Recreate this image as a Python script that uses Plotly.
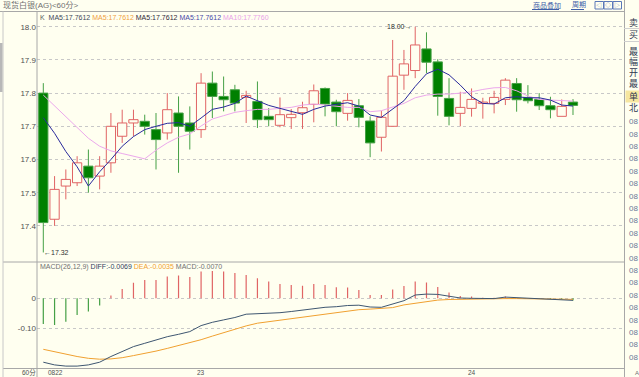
import plotly.graph_objects as go

W, H = 639, 377
BG = "#FFFFF0"

title_text = "现货白银(AG)<60分>"
price_ticks = [17.4, 17.5, 17.6, 17.7, 17.8, 17.9, 18.0]
price_tick_labels = ["17.4", "17.5", "17.6", "17.7", "17.8", "17.9", "18.0"]
macd_ticks = [0, -0.10]
macd_tick_labels = ["0", "-0.10"]
date_labels = ["0822", "23", "24"]
date_label_idx = [0, 14, 38]

opens = [17.80, 17.42, 17.52, 17.53, 17.58, 17.55, 17.59, 17.67, 17.71, 17.715,
         17.69, 17.68, 17.74, 17.71, 17.69, 17.83, 17.79, 17.81, 17.787, 17.775,
         17.73, 17.703, 17.726, 17.741, 17.766, 17.814, 17.773, 17.739, 17.762, 17.716,
         17.667, 17.70, 17.854, 17.868, 17.933, 17.894, 17.784, 17.739, 17.754, 17.769,
         17.769, 17.781, 17.829, 17.787, 17.781, 17.762, 17.73, 17.773]
highs = [17.83, 17.55, 17.57, 17.61, 17.63, 17.61, 17.74, 17.75, 17.75, 17.735,
         17.74, 17.80, 17.79, 17.76, 17.86, 17.865, 17.85, 17.825, 17.807, 17.835,
         17.755, 17.787, 17.752, 17.774, 17.826, 17.817, 17.78, 17.80, 17.782, 17.73,
         17.747, 17.96, 17.93, 18.00, 17.983, 17.902, 17.845, 17.804, 17.814, 17.786,
         17.807, 17.845, 17.845, 17.824, 17.80, 17.789, 17.781, 17.782]
lows = [17.32, 17.40, 17.48, 17.52, 17.50, 17.51, 17.56, 17.65, 17.67, 17.675,
        17.57, 17.66, 17.56, 17.63, 17.665, 17.725, 17.745, 17.745, 17.71, 17.695,
        17.70, 17.697, 17.692, 17.692, 17.712, 17.73, 17.70, 17.717, 17.697, 17.607,
        17.624, 17.70, 17.81, 17.845, 17.86, 17.732, 17.703, 17.70, 17.729, 17.723,
        17.739, 17.764, 17.744, 17.769, 17.749, 17.724, 17.73, 17.734]
closes = [17.41, 17.51, 17.54, 17.59, 17.545, 17.58, 17.70, 17.71, 17.72, 17.70,
          17.66, 17.75, 17.70, 17.685, 17.83, 17.79, 17.78, 17.77, 17.793, 17.72,
          17.72, 17.735, 17.736, 17.756, 17.807, 17.767, 17.744, 17.778, 17.727, 17.65,
          17.727, 17.851, 17.888, 17.945, 17.893, 17.79, 17.73, 17.757, 17.781, 17.773,
          17.787, 17.839, 17.78, 17.777, 17.762, 17.75, 17.76, 17.763]

ma5 = [17.726, 17.679, 17.624, 17.578, 17.520, 17.563, 17.600, 17.640, 17.669, 17.690,
       17.700, 17.709, 17.711, 17.700, 17.725, 17.751, 17.758, 17.769, 17.791, 17.777,
       17.763, 17.754, 17.744, 17.736, 17.751, 17.761, 17.766, 17.771, 17.761, 17.734,
       17.727, 17.751, 17.777, 17.820, 17.858, 17.872, 17.855, 17.824, 17.789, 17.769,
       17.767, 17.786, 17.789, 17.786, 17.786, 17.779, 17.764, 17.761]
ma10 = [17.794, 17.761, 17.729, 17.694, 17.664, 17.640, 17.626, 17.618, 17.611, 17.602,
        17.628, 17.650, 17.667, 17.677, 17.701, 17.722, 17.732, 17.742, 17.747, 17.751,
        17.751, 17.754, 17.757, 17.764, 17.767, 17.764, 17.761, 17.757, 17.757, 17.744,
        17.747, 17.759, 17.769, 17.786, 17.794, 17.797, 17.797, 17.800, 17.804, 17.811,
        17.816, 17.817, 17.807, 17.791, 17.781, 17.779, 17.777, 17.776]

macd = [-0.086, -0.089, -0.078, -0.056, -0.044, -0.024, 0.009, 0.031, 0.052, 0.061,
        0.061, 0.073, 0.076, 0.071, 0.089, 0.091, 0.089, 0.084, 0.078, 0.067,
        0.056, 0.048, 0.044, 0.042, 0.048, 0.044, 0.037, 0.036, 0.028, 0.011,
        0.011, 0.029, 0.041, 0.056, 0.053, 0.038, 0.019, 0.008, 0.006, 0.002,
        0.002, 0.006, 0.001, 0.0, -0.001, -0.002, -0.003, -0.007]
diff = [-0.213, -0.222, -0.226, -0.226, -0.222, -0.213, -0.194, -0.178, -0.161, -0.150,
        -0.139, -0.128, -0.120, -0.111, -0.091, -0.080, -0.072, -0.064, -0.053, -0.052,
        -0.050, -0.048, -0.044, -0.039, -0.033, -0.030, -0.028, -0.024, -0.023, -0.029,
        -0.030, -0.020, -0.008, 0.011, 0.014, 0.013, 0.006, 0.001, 0.0, -0.001,
        -0.001, 0.004, 0.002, 0.0, -0.001, -0.004, -0.006, -0.0069]
dea = [-0.170, -0.178, -0.187, -0.194, -0.200, -0.203, -0.202, -0.198, -0.191, -0.184,
       -0.176, -0.167, -0.158, -0.148, -0.138, -0.126, -0.114, -0.102, -0.092, -0.083,
       -0.078, -0.072, -0.067, -0.061, -0.056, -0.053, -0.048, -0.042, -0.038, -0.036,
       -0.033, -0.031, -0.022, -0.017, -0.011, -0.006, -0.004, -0.003, -0.002, -0.002,
       -0.002, -0.001, -0.001, -0.001, -0.002, -0.002, -0.003, -0.0035]

right_labels = ["卖", "买", "最", "幅", "开", "最", "单", "北"]
right_time = "08"

RED = "#E06464"
GREEN_FILL = "#008000"
GREEN_LINE = "#45A045"
FONT = "Liberation Sans, Noto Sans CJK SC, sans-serif"


def xp(px):
    return px / W


def yp(py):
    return 1 - py / H


n = len(opens)
idx = list(range(n))

fig = go.Figure()

# wicks (split so they don't cross hollow bodies)
wick = {True: ([], []), False: ([], [])}
for i, (o, h, l, c) in enumerate(zip(opens, highs, lows, closes)):
    up = c >= o
    top, bot = max(o, c), min(o, c)
    xs, ys = wick[up]
    xs += [i, i, None, i, i, None]
    ys += [h, top, None, bot, l, None]
for up, col in [(True, RED), (False, GREEN_LINE)]:
    fig.add_trace(go.Scatter(x=wick[up][0], y=wick[up][1], mode="lines",
                             line=dict(color=col, width=1), hoverinfo="skip",
                             xaxis="x", yaxis="y", showlegend=False))

# bodies
base = [min(o, c) for o, c in zip(opens, closes)]
height = [max(abs(c - o), 0.003) for o, c in zip(opens, closes)]
fill = [BG if c >= o else GREEN_FILL for o, c in zip(opens, closes)]
edge = [RED if c >= o else GREEN_LINE for o, c in zip(opens, closes)]
fig.add_trace(go.Bar(x=idx, y=height, base=base, width=0.82,
                     marker=dict(color=fill, line=dict(color=edge, width=1)),
                     xaxis="x", yaxis="y", showlegend=False, hoverinfo="skip"))

fig.add_trace(go.Scatter(x=idx, y=ma10, mode="lines", line=dict(color="#ECA8EC", width=1),
                         xaxis="x", yaxis="y", showlegend=False))
fig.add_trace(go.Scatter(x=idx, y=ma5, mode="lines", line=dict(color="#2A2A9C", width=1),
                         xaxis="x", yaxis="y", showlegend=False))

# MACD sticks
stick = {True: ([], []), False: ([], [])}
for i, v in enumerate(macd):
    xs, ys = stick[v >= 0]
    xs += [i, i, None]
    ys += [0, v, None]
for pos, col in [(True, RED), (False, GREEN_LINE)]:
    fig.add_trace(go.Scatter(x=stick[pos][0], y=stick[pos][1], mode="lines",
                             line=dict(color=col, width=1.2), hoverinfo="skip",
                             xaxis="x2", yaxis="y2", showlegend=False))
fig.add_trace(go.Scatter(x=idx, y=dea, mode="lines", line=dict(color="#F0A030", width=1),
                         xaxis="x2", yaxis="y2", showlegend=False))
fig.add_trace(go.Scatter(x=idx, y=diff, mode="lines", line=dict(color="#3E5670", width=1),
                         xaxis="x2", yaxis="y2", showlegend=False))

x0_px, x1_px = 37, 622
spacing = 11.27
first_px = 43.3
xr = [-(first_px - x0_px) / spacing, (n - 1) + (x1_px - (first_px + (n - 1) * spacing)) / spacing]

p_top, p_bot = 12, 262
m_top, m_bot = 262, 368.3
price_range = [18.0 - (p_bot - 26.7) / 332, 18.0 + (26.7 - p_top) / 332]
macd_range = [-(m_bot - 298.3) / 300, (298.3 - m_top) / 300]

axis_common = dict(showgrid=False, zeroline=False, showticklabels=False, ticks="",
                   range=xr, domain=[xp(x0_px), xp(x1_px)], fixedrange=True)
yfont = dict(family=FONT, size=8, color="#505050")

fig.update_layout(
    width=W, height=H, autosize=False,
    margin=dict(l=0, r=0, t=0, b=0),
    paper_bgcolor=BG, plot_bgcolor=BG,
    showlegend=False, barmode="overlay",
    font=dict(family=FONT, size=8, color="#505050"),
    xaxis=dict(anchor="y", **axis_common),
    xaxis2=dict(anchor="y2", **axis_common),
    yaxis=dict(domain=[yp(p_bot), yp(p_top)], range=price_range, tickvals=price_ticks,
               ticktext=price_tick_labels, showgrid=True, gridcolor="#C8C8C8",
               griddash="dot", gridwidth=1, zeroline=False, tickfont=yfont,
               ticks="", showline=False, fixedrange=True),
    yaxis2=dict(domain=[yp(m_bot), yp(m_top)], range=macd_range, tickvals=macd_ticks,
                ticktext=macd_tick_labels, showgrid=True, gridcolor="#C8C8C8",
                griddash="dot", gridwidth=1, zeroline=False, tickfont=yfont,
                ticks="", showline=False, fixedrange=True),
)

shapes = []


def line(x0, y0, x1, y1, color="#A8A8A8", width=1):
    shapes.append(dict(type="line", xref="paper", yref="paper", x0=xp(x0), y0=yp(y0),
                       x1=xp(x1), y1=yp(y1), line=dict(color=color, width=width)))


line(0, 11.5, 624, 11.5)
line(3, 262, 624, 262)
line(3, 368.5, 624, 368.5)
line(37, 11.5, 37, 377)
line(3, 11.5, 3, 377, color="#C8C8C8")
line(624.5, 0, 624.5, 377)
line(624, 28.5, 639, 28.5, color="#D0D0D0")
line(624, 41.5, 639, 41.5, color="#D0D0D0")
shapes.append(dict(type="rect", xref="paper", yref="paper", x0=xp(0), x1=xp(2.5),
                   y0=yp(92), y1=yp(43), line=dict(width=0), fillcolor="#B8B8B8"))
# highlighted cell in right panel
shapes.append(dict(type="rect", xref="paper", yref="paper", x0=xp(625.5), x1=xp(639),
                   y0=yp(102.5), y1=yp(90.5), line=dict(width=0), fillcolor="#F6E6A0"))
# top-right buttons
for bx in [595, 604, 613]:
    shapes.append(dict(type="rect", xref="paper", yref="paper", x0=xp(bx), x1=xp(bx + 8.5),
                       y0=yp(9), y1=yp(1.5), line=dict(color="#5A78B8", width=1),
                       fillcolor=BG))
line(532, 9.5, 559, 9.5, color="#4060A8")
line(571, 9.5, 584, 9.5, color="#4060A8")
fig.update_layout(shapes=shapes)

ann = []


def text(x, y, s, size=7, color="#505050", xanchor="left", yanchor="middle", **kw):
    ann.append(dict(x=xp(x), y=yp(y), xref="paper", yref="paper", text=s, showarrow=False,
                    xanchor=xanchor, yanchor=yanchor,
                    font=dict(family=FONT, size=size, color=color), **kw))


text(1, 5.5, title_text, size=8, color="#707070")
text(531, 5.5, "商品叠加", size=7, color="#4060A8")
text(570, 5.5, "周期", size=7, color="#4060A8")
for bx, g in zip([595, 604, 613], ["◁", "◇", "▷"]):
    text(bx + 4.25, 5.3, g, size=6, color="#5A78B8", xanchor="center")

legend = ("K&nbsp;&nbsp;<span style='color:#404858'>MA5:17.7612</span> "
          "<span style='color:#F0A040'>MA5:17.7612</span> "
          "<span style='color:#302838'>MA5:17.7612</span> "
          "<span style='color:#4848A8'>MA5:17.7612</span> "
          "<span style='color:#E8A0E8'>MA10:17.7760</span>")
text(37.5, 17.5, legend, size=7, color="#606060")

macd_label = ("MACD(26,12,9) <span style='color:#304060'>DIFF:%.4f</span> "
              "<span style='color:#F0A030'>DEA:%.4f</span> MACD:%.4f"
              % (diff[-1], dea[-1], macd[-1]))
text(37.5, 267, macd_label, size=7, color="#707070")

# high / low markers from data
hi_i = max(range(n), key=lambda i: highs[i])
lo_i = min(range(n), key=lambda i: lows[i])
ann.append(dict(x=hi_i, y=highs[hi_i], xref="x", yref="y", text="%.2f→" % highs[hi_i],
                showarrow=False, xanchor="right", yanchor="middle", xshift=-1,
                font=dict(family=FONT, size=7, color="#303030")))
ann.append(dict(x=lo_i, y=lows[lo_i], xref="x", yref="y", text="←%.2f" % lows[lo_i],
                showarrow=False, xanchor="left", yanchor="middle", xshift=-1,
                font=dict(family=FONT, size=7, color="#303030")))

# bottom date axis
text(20, 372.8, "60分", size=6.5, color="#505050")
for lab, i in zip(date_labels, date_label_idx):
    ann.append(dict(x=i, y=yp(372.8), xref="x2", yref="paper", text=lab, showarrow=False,
                    xanchor="left" if i == 0 else "center", yanchor="middle",
                    xshift=3 if i == 0 else 0,
                    font=dict(family=FONT, size=6.5, color="#505050")))

# right panel
right_y = [22.7, 35, 51.7, 61.7, 72.7, 84.3, 96.7, 108.3]
for s, y in zip(right_labels, right_y):
    text(627, y, s, size=9, color="#303850")
y = 121.7
while y < 364:
    text(627, y, right_time, size=8, color="#6A7898")
    y += 12.4
text(633, 372.5, "A", size=6, color="#707070")

fig.update_layout(annotations=ann)

fig.write_html("out.html", config={"displayModeBar": False},
               post_script="document.body.style.margin='0';document.body.style.overflow='hidden';")
